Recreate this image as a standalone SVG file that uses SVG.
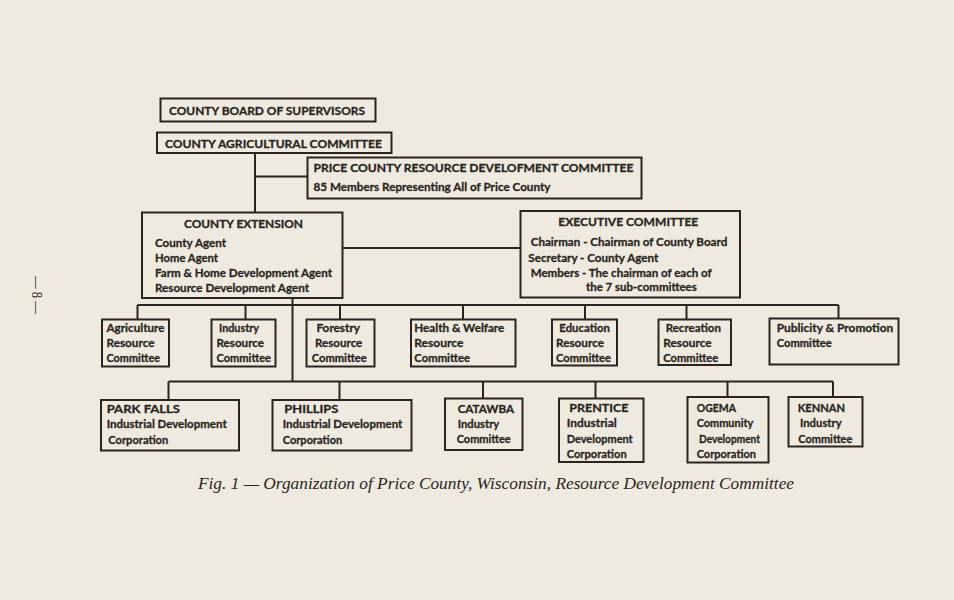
<svg xmlns="http://www.w3.org/2000/svg" width="954" height="600" viewBox="0 0 954 600">
<style>
.box{fill:none;stroke:#2a2521;stroke-width:2}
.ln{fill:none;stroke:#2a2521;stroke-width:2}
text{font-family:Lato,"Open Sans","DejaVu Sans",sans-serif;font-weight:700;fill:#2a2521;stroke:#2a2521;stroke-width:0.3;font-size:12px}
.cap{font-size:11.5px}
.cap2{font-size:11.5px}
.caption{font-family:"Liberation Serif","DejaVu Serif",serif;font-style:italic;font-weight:400;font-size:16.5px;stroke:none}
.pg{font-family:"Liberation Serif",serif;font-weight:400;font-size:14px;stroke:none}
</style>
<rect x="0" y="0" width="954" height="600" fill="#eeeadf"/>

<g id="connectors">
<path class="ln" d="M255 153V213M255 176.5H307.5"/>
<path class="ln" d="M342.5 248H520.5"/>
<path class="ln" d="M292.5 298V381.5"/>
<path class="ln" d="M137.5 305H838.5"/>
<path class="ln" d="M137.5 305V319.5M245.5 305V319.5M340 305V319.5M463 305V319.5M585 305V319.5M686.5 305V319.5M838.5 305V318.5"/>
<path class="ln" d="M168.5 381.5H833"/>
<path class="ln" d="M168.5 381.5V400M339.5 381.5V400M483 381.5V398.5M595.5 381.5V398.5M727.5 381.5V397M833 381.5V397"/>
</g>

<g id="board">
<rect class="box" x="160.5" y="98.5" width="215" height="23"/>
<text class="cap" x="169" y="114.5" textLength="196" lengthAdjust="spacingAndGlyphs">COUNTY BOARD OF SUPERVISORS</text>
</g>
<g id="agcommittee">
<rect class="box" x="157" y="132.5" width="234.5" height="20.5"/>
<text class="cap" x="165" y="147.5" textLength="217" lengthAdjust="spacingAndGlyphs">COUNTY AGRICULTURAL COMMITTEE</text>
</g>
<g id="pcrdc">
<rect class="box" x="307.5" y="157.5" width="334" height="41"/>
<text class="cap" x="313.5" y="171.5" textLength="320" lengthAdjust="spacingAndGlyphs">PRICE COUNTY RESOURCE DEVELOFMENT COMMITTEE</text>
<text x="313.5" y="191" textLength="237" lengthAdjust="spacingAndGlyphs">85 Members Representing All of Price County</text>
</g>
<g id="extension">
<rect class="box" x="142" y="212.5" width="200.5" height="85.5"/>
<text class="cap" x="184" y="227.5" textLength="119" lengthAdjust="spacingAndGlyphs">COUNTY EXTENSION</text>
<text x="155" y="247" textLength="71" lengthAdjust="spacingAndGlyphs">County Agent</text>
<text x="155" y="262" textLength="63" lengthAdjust="spacingAndGlyphs">Home Agent</text>
<text x="155" y="277" textLength="177" lengthAdjust="spacingAndGlyphs">Farm &amp; Home Development Agent</text>
<text x="155" y="292" textLength="154" lengthAdjust="spacingAndGlyphs">Resource Development Agent</text>
</g>
<g id="executive">
<rect class="box" x="520.5" y="211" width="219.5" height="86.5"/>
<text class="cap" x="558.3" y="226" textLength="140" lengthAdjust="spacingAndGlyphs">EXECUTIVE COMMITTEE</text>
<text x="530.7" y="246" textLength="196.6" lengthAdjust="spacingAndGlyphs">Chairman - Chairman of County Board</text>
<text x="528.3" y="261.5" textLength="130" lengthAdjust="spacingAndGlyphs">Secretary - County Agent</text>
<text x="530.7" y="276.5" textLength="181" lengthAdjust="spacingAndGlyphs">Members - The chairman of each of</text>
<text x="586" y="291" textLength="110.7" lengthAdjust="spacingAndGlyphs">the 7 sub-committees</text>
</g>

<g id="agriculture">
<rect class="box" x="102" y="319.5" width="67" height="47"/>
<text x="106.5" y="332" textLength="58" lengthAdjust="spacingAndGlyphs">Agriculture</text>
<text x="106.5" y="347" textLength="48" lengthAdjust="spacingAndGlyphs">Resource</text>
<text x="106.5" y="362" textLength="53.5" lengthAdjust="spacingAndGlyphs">Committee</text>
</g>
<g id="industry">
<rect class="box" x="211.5" y="319.5" width="64" height="47"/>
<text x="219" y="332" textLength="40" lengthAdjust="spacingAndGlyphs">Industry</text>
<text x="216.5" y="347" textLength="47.5" lengthAdjust="spacingAndGlyphs">Resource</text>
<text x="216.5" y="362" textLength="54.5" lengthAdjust="spacingAndGlyphs">Committee</text>
</g>
<g id="forestry">
<rect class="box" x="306.5" y="319.5" width="68" height="47"/>
<text x="316.5" y="332" textLength="43.5" lengthAdjust="spacingAndGlyphs">Forestry</text>
<text x="315" y="347" textLength="47.3" lengthAdjust="spacingAndGlyphs">Resource</text>
<text x="311.7" y="362" textLength="55" lengthAdjust="spacingAndGlyphs">Committee</text>
</g>
<g id="health">
<rect class="box" x="411" y="319.5" width="104.5" height="47"/>
<text x="414.3" y="332" textLength="90" lengthAdjust="spacingAndGlyphs">Health &amp; Welfare</text>
<text x="414.3" y="347" textLength="49" lengthAdjust="spacingAndGlyphs">Resource</text>
<text x="414.3" y="362" textLength="55.7" lengthAdjust="spacingAndGlyphs">Committee</text>
</g>
<g id="education">
<rect class="box" x="552" y="319.5" width="65" height="46"/>
<text x="559.3" y="332" textLength="50.7" lengthAdjust="spacingAndGlyphs">Education</text>
<text x="556" y="347" textLength="48" lengthAdjust="spacingAndGlyphs">Resource</text>
<text x="556" y="361.5" textLength="55" lengthAdjust="spacingAndGlyphs">Committee</text>
</g>
<g id="recreation">
<rect class="box" x="658.5" y="319.5" width="72.5" height="45.5"/>
<text x="665.7" y="332" textLength="55.3" lengthAdjust="spacingAndGlyphs">Recreation</text>
<text x="663.3" y="347" textLength="48.4" lengthAdjust="spacingAndGlyphs">Resource</text>
<text x="663.3" y="361.5" textLength="55" lengthAdjust="spacingAndGlyphs">Committee</text>
</g>
<g id="publicity">
<rect class="box" x="769.5" y="318.5" width="129" height="46"/>
<text x="776.7" y="331.5" textLength="116.6" lengthAdjust="spacingAndGlyphs">Publicity &amp; Promotion</text>
<text x="776.7" y="346.5" textLength="55" lengthAdjust="spacingAndGlyphs">Committee</text>
</g>

<g id="parkfalls">
<rect class="box" x="101" y="400" width="138" height="50.5"/>
<text class="cap2" x="106.7" y="413" textLength="73.3" lengthAdjust="spacingAndGlyphs">PARK FALLS</text>
<text x="106.7" y="428" textLength="120" lengthAdjust="spacingAndGlyphs">Industrial Development</text>
<text x="108.3" y="443.5" textLength="60" lengthAdjust="spacingAndGlyphs">Corporation</text>
</g>
<g id="phillips">
<rect class="box" x="272.5" y="400" width="139" height="50.5"/>
<text class="cap2" x="284.3" y="413" textLength="54" lengthAdjust="spacingAndGlyphs">PHILLIPS</text>
<text x="282.7" y="428" textLength="119.6" lengthAdjust="spacingAndGlyphs">Industrial Development</text>
<text x="282.7" y="443.5" textLength="59.6" lengthAdjust="spacingAndGlyphs">Corporation</text>
</g>
<g id="catawba">
<rect class="box" x="445" y="398.5" width="77.5" height="51.5"/>
<text class="cap2" x="457.7" y="412.5" textLength="56.3" lengthAdjust="spacingAndGlyphs">CATAWBA</text>
<text x="457.7" y="427.5" textLength="41.6" lengthAdjust="spacingAndGlyphs">Industry</text>
<text x="456.7" y="443" textLength="54" lengthAdjust="spacingAndGlyphs">Committee</text>
</g>
<g id="prentice">
<rect class="box" x="559" y="398.5" width="84.5" height="63.5"/>
<text class="cap2" x="569.3" y="412" textLength="59" lengthAdjust="spacingAndGlyphs">PRENTICE</text>
<text x="566.7" y="427" textLength="50" lengthAdjust="spacingAndGlyphs">Industrial</text>
<text x="566.7" y="442.5" textLength="66" lengthAdjust="spacingAndGlyphs">Development</text>
<text x="566.7" y="457.5" textLength="60" lengthAdjust="spacingAndGlyphs">Corporation</text>
</g>
<g id="ogema">
<rect class="box" x="687.5" y="397" width="81" height="65.5"/>
<text class="cap2" x="696.7" y="412" textLength="39.3" lengthAdjust="spacingAndGlyphs">OGEMA</text>
<text x="696.7" y="427" textLength="56.6" lengthAdjust="spacingAndGlyphs">Community</text>
<text x="699" y="442.5" textLength="61" lengthAdjust="spacingAndGlyphs">Development</text>
<text x="696.7" y="457.5" textLength="59.3" lengthAdjust="spacingAndGlyphs">Corporation</text>
</g>
<g id="kennan">
<rect class="box" x="788.5" y="397" width="74" height="49.5"/>
<text class="cap2" x="797.7" y="412" textLength="47.3" lengthAdjust="spacingAndGlyphs">KENNAN</text>
<text x="800" y="427" textLength="41.7" lengthAdjust="spacingAndGlyphs">Industry</text>
<text x="798.3" y="442.5" textLength="54" lengthAdjust="spacingAndGlyphs">Committee</text>
</g>

<text class="caption" x="198" y="489" textLength="596" lengthAdjust="spacingAndGlyphs">Fig. 1 — Organization of Price County, Wisconsin, Resource Development Committee</text>
<text class="pg" transform="translate(32,295) rotate(90)" x="0" y="0" text-anchor="middle" textLength="38" lengthAdjust="spacingAndGlyphs">— 8 —</text>
</svg>
